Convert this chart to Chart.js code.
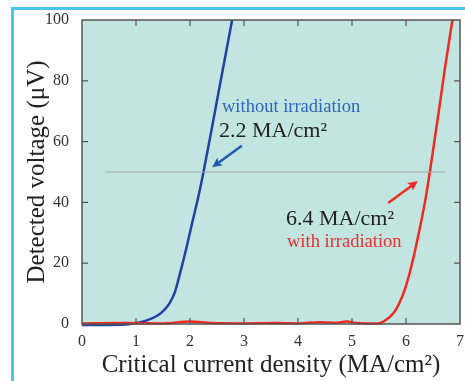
<!DOCTYPE html>
<html>
<head>
<meta charset="utf-8">
<script src="https://cdn.jsdelivr.net/npm/chart.js@4.4.0/dist/chart.umd.min.js"></script>
<style>
  html, body { margin: 0; padding: 0; background: #fff; }
  #wrap { width: 465px; height: 381px; }
</style>
</head>
<body>
<div id="wrap"><canvas id="myChart" width="465" height="381"></canvas></div>
<script>
// Critical current density (MA/cm2) vs detected voltage (uV)
const withoutX = [0, 0.5, 0.9, 1.0, 1.2, 1.4, 1.52, 1.62, 1.72, 1.82, 1.94, 2.05, 2.15, 2.25, 2.4, 2.6, 2.78]
const withoutY = [-0.3, -0.3, 0, 0.3, 1.2, 2.8, 4.6, 6.8, 10.5, 17, 25.5, 34, 41.5, 50, 64, 83, 100]

const withX = [0, 0.8, 1.5, 2.0, 2.4, 3.0, 3.6, 4.0, 4.4, 4.7, 4.9, 5.1, 5.3, 5.47, 5.6, 5.77, 5.88, 5.99, 6.1, 6.21, 6.36, 6.45, 6.6, 6.72, 6.86]
const withY = [0.2, 0.3, 0.2, 0.8, 0.3, 0.2, 0.3, 0.2, 0.6, 0.4, 0.8, 0.3, 0.2, 0.2, 1, 3.6, 7, 12, 19, 27.6, 41, 51, 69, 84, 100]

const refX = [0.43, 6.72]
const refY = [50, 50]

const xTicks = [0, 1, 2, 3, 4, 5, 6, 7]
const yTicks = [0, 20, 40, 60, 80, 100]

const serif = "'Liberation Serif', 'DejaVu Serif', serif"

function toPoints(xs, ys) {
    return xs.map((x, i) => ({x: x, y: ys[i]}))
}

// background, frame, inside ticks, titles and annotations
const decor = {
    id: 'decor',
    beforeDraw(chart) {
        const {ctx, chartArea: a} = chart
        ctx.save()
        ctx.fillStyle = '#c3e5e2'
        ctx.fillRect(a.left, a.top, a.right - a.left, a.bottom - a.top)
        // cyan page frame
        ctx.strokeStyle = '#45c6ef'
        ctx.lineWidth = 3
        ctx.beginPath()
        ctx.moveTo(465, 8.5)
        ctx.lineTo(12.5, 8.5)
        ctx.lineTo(12.5, 381)
        ctx.stroke()
        ctx.restore()
    },
    afterDraw(chart) {
        const {ctx, chartArea: a, scales} = chart
        const xs = scales.x, ys = scales.y
        ctx.save()
        // plot frame
        ctx.strokeStyle = '#555'
        ctx.lineWidth = 1.5
        ctx.strokeRect(a.left, a.top, a.right - a.left, a.bottom - a.top)
        // ticks inside on all sides
        ctx.lineWidth = 1.2
        ctx.beginPath()
        xTicks.slice(1, -1).forEach(v => {
            const px = xs.getPixelForValue(v)
            ctx.moveTo(px, a.bottom); ctx.lineTo(px, a.bottom - 6)
            ctx.moveTo(px, a.top); ctx.lineTo(px, a.top + 6)
        })
        yTicks.slice(1, -1).forEach(v => {
            const py = ys.getPixelForValue(v)
            ctx.moveTo(a.left, py); ctx.lineTo(a.left + 6, py)
            ctx.moveTo(a.right, py); ctx.lineTo(a.right - 6, py)
        })
        ctx.stroke()

        // axis titles
        ctx.fillStyle = '#222'
        ctx.font = '25px ' + serif
        ctx.textAlign = 'center'
        ctx.textBaseline = 'alphabetic'
        ctx.fillText('Critical current density (MA/cm²)', 271, 372)
        ctx.save()
        ctx.translate(44, 172)
        ctx.rotate(-Math.PI / 2)
        ctx.fillText('Detected voltage (μV)', 0, 0)
        ctx.restore()

        // annotations
        ctx.textAlign = 'left'
        ctx.font = '18.5px ' + serif
        ctx.fillStyle = '#2a66b8'
        ctx.fillText('without irradiation', 222, 112)
        ctx.fillStyle = '#222'
        ctx.font = '22px ' + serif
        ctx.fillText('2.2 MA/cm²', 219, 137)
        ctx.fillText('6.4 MA/cm²', 286, 225)
        ctx.font = '18.5px ' + serif
        ctx.fillStyle = '#e8302c'
        ctx.fillText('with irradiation', 287, 247)

        arrow(ctx, xs.getPixelForValue(2.96), ys.getPixelForValue(58.6),
              xs.getPixelForValue(2.41), ys.getPixelForValue(51.6), '#1f5cb0')
        arrow(ctx, xs.getPixelForValue(5.67), ys.getPixelForValue(39.8),
              xs.getPixelForValue(6.22), ys.getPixelForValue(47), '#ee2a24')
        ctx.restore()
    }
}

function arrow(ctx, x1, y1, x2, y2, color) {
    const ang = Math.atan2(y2 - y1, x2 - x1)
    const len = 11
    ctx.strokeStyle = color
    ctx.fillStyle = color
    ctx.lineWidth = 2.5
    ctx.beginPath()
    ctx.moveTo(x1, y1)
    ctx.lineTo(x2 - Math.cos(ang) * len * 0.7, y2 - Math.sin(ang) * len * 0.7)
    ctx.stroke()
    ctx.beginPath()
    ctx.moveTo(x2, y2)
    ctx.lineTo(x2 - len * Math.cos(ang - 0.45), y2 - len * Math.sin(ang - 0.45))
    ctx.lineTo(x2 - len * 0.7 * Math.cos(ang), y2 - len * 0.7 * Math.sin(ang))
    ctx.lineTo(x2 - len * Math.cos(ang + 0.45), y2 - len * Math.sin(ang + 0.45))
    ctx.closePath()
    ctx.fill()
}

new Chart('myChart', {
    type: 'scatter',
    data: {
        datasets: [
            {
                label: 'reference',
                data: toPoints(refX, refY),
                showLine: true,
                borderColor: '#a3a8a8',
                borderWidth: 1,
                pointRadius: 0
            },
            {
                label: 'with irradiation',
                data: toPoints(withX, withY),
                showLine: true,
                borderColor: '#ee2a22',
                borderWidth: 2.5,
                pointRadius: 0,
                cubicInterpolationMode: 'monotone',
                clip: 3
            },
            {
                label: 'without irradiation',
                data: toPoints(withoutX, withoutY),
                showLine: true,
                borderColor: '#2141a3',
                borderWidth: 2.5,
                pointRadius: 0,
                cubicInterpolationMode: 'monotone',
                clip: 3
            }
        ]
    },
    options: {
        responsive: false,
        animation: false,
        layout: {padding: {top: 20, right: 5, left: 0, bottom: 0}},
        plugins: {legend: {display: false}, tooltip: {enabled: false}},
        scales: {
            x: {
                min: 0, max: 7,
                grid: {display: false},
                border: {display: false},
                afterFit: s => { s.height = 57 },
                afterBuildTicks: s => { s.ticks = xTicks.map(v => ({value: v})) },
                ticks: {padding: 0, color: '#333', font: {family: serif, size: 16}}
            },
            y: {
                min: 0, max: 100,
                grid: {display: false},
                border: {display: false},
                afterFit: s => { s.width = 82 },
                afterBuildTicks: s => { s.ticks = yTicks.map(v => ({value: v})) },
                ticks: {padding: 5, color: '#333', font: {family: serif, size: 16}}
            }
        }
    },
    plugins: [decor]
})
</script>
</body>
</html>
